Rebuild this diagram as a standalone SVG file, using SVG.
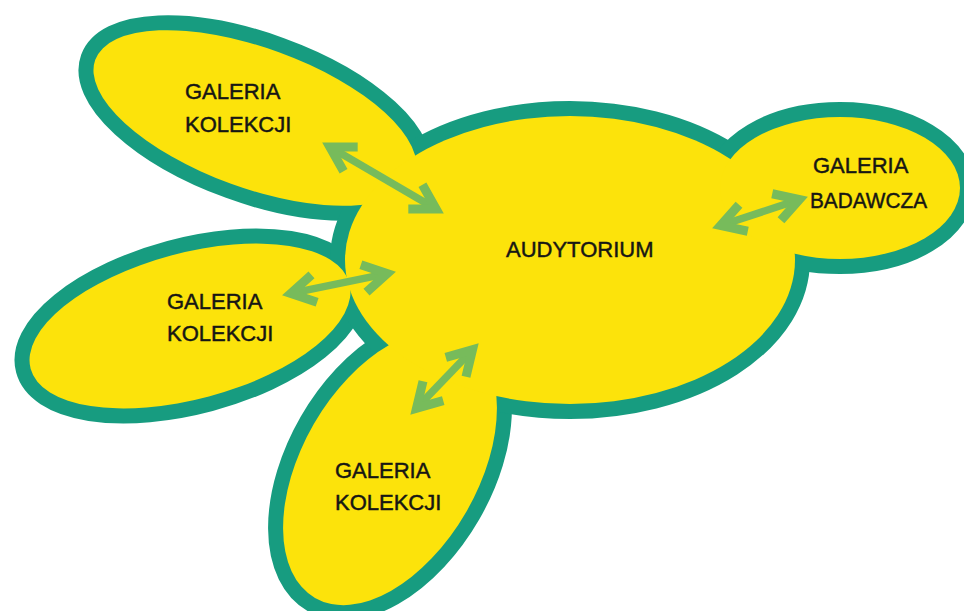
<svg xmlns="http://www.w3.org/2000/svg" xmlns:xlink="http://www.w3.org/1999/xlink" width="964" height="611" viewBox="0 0 964 611">
<style>
.edge{fill:#179C80;stroke:#179C80;stroke-width:30}
.body{fill:#FCE30B}
.lbl{font-family:"Liberation Sans",Arial,sans-serif;font-size:22px;fill:#161614;stroke:#161614;stroke-width:0.45}
.conn{stroke:#77BB5B;stroke-width:7.5;fill:none;marker-start:url(#head);marker-end:url(#head)}
</style>
<defs>
<ellipse id="e-tl" cx="255" cy="118" rx="170" ry="70" transform="rotate(20 255 118)"/>
<ellipse id="e-ml" cx="190" cy="326" rx="165" ry="73" transform="rotate(-15 190 326)"/>
<ellipse id="e-bt" cx="390" cy="468" rx="150" ry="88" transform="rotate(-60 390 468)"/>
<ellipse id="e-c" cx="570" cy="260" rx="225" ry="144"/>
<ellipse id="e-r" cx="840" cy="188" rx="120" ry="71"/>
<marker id="head" markerUnits="userSpaceOnUse" orient="auto-start-reverse" refX="0" refY="0" markerWidth="60" markerHeight="60" viewBox="-40 -30 60 60" overflow="visible">
<path d="M-24,-14 L0,0 L-24,14" fill="none" stroke="#77BB5B" stroke-width="9" stroke-linejoin="miter" stroke-miterlimit="10"/>
</marker>
</defs>
<g id="outline">
<use xlink:href="#e-tl" class="edge"/>
<use xlink:href="#e-ml" class="edge"/>
<use xlink:href="#e-bt" class="edge"/>
<use xlink:href="#e-c" class="edge"/>
<use xlink:href="#e-r" class="edge"/>
</g>
<g id="fill">
<use xlink:href="#e-tl" class="body"/>
<use xlink:href="#e-ml" class="body"/>
<use xlink:href="#e-bt" class="body"/>
<use xlink:href="#e-c" class="body"/>
<use xlink:href="#e-r" class="body"/>
</g>
<g id="connectors">
<path class="conn" d="M329.9,147 L436.1,209"/>
<path class="conn" d="M290.8,293.4 L387.2,273.6"/>
<path class="conn" d="M472.5,349.8 L416.5,408.2"/>
<path class="conn" d="M720.6,225.5 L799.4,199.5"/>
</g>
<g id="galeria-kolekcji-1"><text class="lbl" x="185" y="99">GALERIA</text><text class="lbl" x="185" y="132">KOLEKCJI</text></g>
<g id="galeria-kolekcji-2"><text class="lbl" x="167" y="309">GALERIA</text><text class="lbl" x="167" y="341">KOLEKCJI</text></g>
<g id="galeria-kolekcji-3"><text class="lbl" x="335" y="478">GALERIA</text><text class="lbl" x="335" y="510">KOLEKCJI</text></g>
<g id="audytorium"><text class="lbl" x="506" y="257">AUDYTORIUM</text></g>
<g id="galeria-badawcza"><text class="lbl" x="813" y="173">GALERIA</text><text class="lbl" x="810" y="208" textLength="117" lengthAdjust="spacingAndGlyphs">BADAWCZA</text></g>
</svg>
